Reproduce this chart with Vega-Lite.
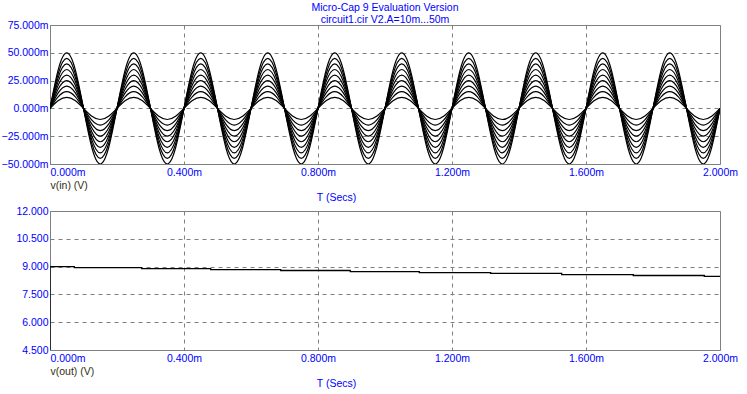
{
"$schema": "https://vega.github.io/schema/vega-lite/v6.json",
"padding": {"left": 0, "top": 2, "right": 5, "bottom": 5},
"background": "white",
"bounds": "flush",
"spacing": 47,
"config": {
  "font": "Liberation Sans",
  "view": {"stroke": "#808080", "strokeWidth": 1},
  "axis": {
    "labelColor": "#0000ff", "labelFont": "Liberation Sans", "labelFontSize": 10.5,
    "titleFont": "Liberation Sans", "titleFontSize": 10.5, "titleFontWeight": "normal",
    "ticks": false, "tickSize": 0, "domain": false,
    "grid": true, "gridColor": "#808080", "gridDash": [4, 4], "gridWidth": 1
  }
},
"vconcat": [
  {
    "title": {"text": "Micro-Cap 9 Evaluation Version", "subtitle": "circuit1.cir V2.A=10m...50m", "color": "#0000ff", "subtitleColor": "#0000ff", "fontSize": 10.5, "subtitleFontSize": 10.5, "fontWeight": "normal", "font": "Liberation Sans", "subtitleFont": "Liberation Sans", "anchor": "middle", "offset": -5, "subtitlePadding": 1, "frame": "group"},
    "width": 670, "height": 139,
    "data": {"values": [
{"t":0,"a":0,"b":0,"c":0,"d":0,"e":0,"f":0,"g":0,"h":0,"i":0},
{"t":0.025,"a":7.07,"b":10.61,"c":14.14,"d":17.68,"e":21.21,"f":24.75,"g":28.28,"h":31.82,"i":35.36},
{"t":0.05,"a":10,"b":15,"c":20,"d":25,"e":30,"f":35,"g":40,"h":45,"i":50},
{"t":0.075,"a":7.07,"b":10.61,"c":14.14,"d":17.68,"e":21.21,"f":24.75,"g":28.28,"h":31.82,"i":35.36},
{"t":0.1,"a":0,"b":0,"c":0,"d":0,"e":0,"f":0,"g":0,"h":0,"i":0},
{"t":0.125,"a":-7.07,"b":-10.61,"c":-14.14,"d":-17.68,"e":-21.21,"f":-24.75,"g":-28.28,"h":-31.82,"i":-35.36},
{"t":0.15,"a":-10,"b":-15,"c":-20,"d":-25,"e":-30,"f":-35,"g":-40,"h":-45,"i":-50},
{"t":0.175,"a":-7.07,"b":-10.61,"c":-14.14,"d":-17.68,"e":-21.21,"f":-24.75,"g":-28.28,"h":-31.82,"i":-35.36},
{"t":0.2,"a":0,"b":0,"c":0,"d":0,"e":0,"f":0,"g":0,"h":0,"i":0},
{"t":0.225,"a":7.07,"b":10.61,"c":14.14,"d":17.68,"e":21.21,"f":24.75,"g":28.28,"h":31.82,"i":35.36},
{"t":0.25,"a":10,"b":15,"c":20,"d":25,"e":30,"f":35,"g":40,"h":45,"i":50},
{"t":0.275,"a":7.07,"b":10.61,"c":14.14,"d":17.68,"e":21.21,"f":24.75,"g":28.28,"h":31.82,"i":35.36},
{"t":0.3,"a":0,"b":0,"c":0,"d":0,"e":0,"f":0,"g":0,"h":0,"i":0},
{"t":0.325,"a":-7.07,"b":-10.61,"c":-14.14,"d":-17.68,"e":-21.21,"f":-24.75,"g":-28.28,"h":-31.82,"i":-35.36},
{"t":0.35,"a":-10,"b":-15,"c":-20,"d":-25,"e":-30,"f":-35,"g":-40,"h":-45,"i":-50},
{"t":0.375,"a":-7.07,"b":-10.61,"c":-14.14,"d":-17.68,"e":-21.21,"f":-24.75,"g":-28.28,"h":-31.82,"i":-35.36},
{"t":0.4,"a":0,"b":0,"c":0,"d":0,"e":0,"f":0,"g":0,"h":0,"i":0},
{"t":0.425,"a":7.07,"b":10.61,"c":14.14,"d":17.68,"e":21.21,"f":24.75,"g":28.28,"h":31.82,"i":35.36},
{"t":0.45,"a":10,"b":15,"c":20,"d":25,"e":30,"f":35,"g":40,"h":45,"i":50},
{"t":0.475,"a":7.07,"b":10.61,"c":14.14,"d":17.68,"e":21.21,"f":24.75,"g":28.28,"h":31.82,"i":35.36},
{"t":0.5,"a":0,"b":0,"c":0,"d":0,"e":0,"f":0,"g":0,"h":0,"i":0},
{"t":0.525,"a":-7.07,"b":-10.61,"c":-14.14,"d":-17.68,"e":-21.21,"f":-24.75,"g":-28.28,"h":-31.82,"i":-35.36},
{"t":0.55,"a":-10,"b":-15,"c":-20,"d":-25,"e":-30,"f":-35,"g":-40,"h":-45,"i":-50},
{"t":0.575,"a":-7.07,"b":-10.61,"c":-14.14,"d":-17.68,"e":-21.21,"f":-24.75,"g":-28.28,"h":-31.82,"i":-35.36},
{"t":0.6,"a":0,"b":0,"c":0,"d":0,"e":0,"f":0,"g":0,"h":0,"i":0},
{"t":0.625,"a":7.07,"b":10.61,"c":14.14,"d":17.68,"e":21.21,"f":24.75,"g":28.28,"h":31.82,"i":35.36},
{"t":0.65,"a":10,"b":15,"c":20,"d":25,"e":30,"f":35,"g":40,"h":45,"i":50},
{"t":0.675,"a":7.07,"b":10.61,"c":14.14,"d":17.68,"e":21.21,"f":24.75,"g":28.28,"h":31.82,"i":35.36},
{"t":0.7,"a":0,"b":0,"c":0,"d":0,"e":0,"f":0,"g":0,"h":0,"i":0},
{"t":0.725,"a":-7.07,"b":-10.61,"c":-14.14,"d":-17.68,"e":-21.21,"f":-24.75,"g":-28.28,"h":-31.82,"i":-35.36},
{"t":0.75,"a":-10,"b":-15,"c":-20,"d":-25,"e":-30,"f":-35,"g":-40,"h":-45,"i":-50},
{"t":0.775,"a":-7.07,"b":-10.61,"c":-14.14,"d":-17.68,"e":-21.21,"f":-24.75,"g":-28.28,"h":-31.82,"i":-35.36},
{"t":0.8,"a":0,"b":0,"c":0,"d":0,"e":0,"f":0,"g":0,"h":0,"i":0},
{"t":0.825,"a":7.07,"b":10.61,"c":14.14,"d":17.68,"e":21.21,"f":24.75,"g":28.28,"h":31.82,"i":35.36},
{"t":0.85,"a":10,"b":15,"c":20,"d":25,"e":30,"f":35,"g":40,"h":45,"i":50},
{"t":0.875,"a":7.07,"b":10.61,"c":14.14,"d":17.68,"e":21.21,"f":24.75,"g":28.28,"h":31.82,"i":35.36},
{"t":0.9,"a":0,"b":0,"c":0,"d":0,"e":0,"f":0,"g":0,"h":0,"i":0},
{"t":0.925,"a":-7.07,"b":-10.61,"c":-14.14,"d":-17.68,"e":-21.21,"f":-24.75,"g":-28.28,"h":-31.82,"i":-35.36},
{"t":0.95,"a":-10,"b":-15,"c":-20,"d":-25,"e":-30,"f":-35,"g":-40,"h":-45,"i":-50},
{"t":0.975,"a":-7.07,"b":-10.61,"c":-14.14,"d":-17.68,"e":-21.21,"f":-24.75,"g":-28.28,"h":-31.82,"i":-35.36},
{"t":1.0,"a":0,"b":0,"c":0,"d":0,"e":0,"f":0,"g":0,"h":0,"i":0},
{"t":1.025,"a":7.07,"b":10.61,"c":14.14,"d":17.68,"e":21.21,"f":24.75,"g":28.28,"h":31.82,"i":35.36},
{"t":1.05,"a":10,"b":15,"c":20,"d":25,"e":30,"f":35,"g":40,"h":45,"i":50},
{"t":1.075,"a":7.07,"b":10.61,"c":14.14,"d":17.68,"e":21.21,"f":24.75,"g":28.28,"h":31.82,"i":35.36},
{"t":1.1,"a":0,"b":0,"c":0,"d":0,"e":0,"f":0,"g":0,"h":0,"i":0},
{"t":1.125,"a":-7.07,"b":-10.61,"c":-14.14,"d":-17.68,"e":-21.21,"f":-24.75,"g":-28.28,"h":-31.82,"i":-35.36},
{"t":1.15,"a":-10,"b":-15,"c":-20,"d":-25,"e":-30,"f":-35,"g":-40,"h":-45,"i":-50},
{"t":1.175,"a":-7.07,"b":-10.61,"c":-14.14,"d":-17.68,"e":-21.21,"f":-24.75,"g":-28.28,"h":-31.82,"i":-35.36},
{"t":1.2,"a":0,"b":0,"c":0,"d":0,"e":0,"f":0,"g":0,"h":0,"i":0},
{"t":1.225,"a":7.07,"b":10.61,"c":14.14,"d":17.68,"e":21.21,"f":24.75,"g":28.28,"h":31.82,"i":35.36},
{"t":1.25,"a":10,"b":15,"c":20,"d":25,"e":30,"f":35,"g":40,"h":45,"i":50},
{"t":1.275,"a":7.07,"b":10.61,"c":14.14,"d":17.68,"e":21.21,"f":24.75,"g":28.28,"h":31.82,"i":35.36},
{"t":1.3,"a":0,"b":0,"c":0,"d":0,"e":0,"f":0,"g":0,"h":0,"i":0},
{"t":1.325,"a":-7.07,"b":-10.61,"c":-14.14,"d":-17.68,"e":-21.21,"f":-24.75,"g":-28.28,"h":-31.82,"i":-35.36},
{"t":1.35,"a":-10,"b":-15,"c":-20,"d":-25,"e":-30,"f":-35,"g":-40,"h":-45,"i":-50},
{"t":1.375,"a":-7.07,"b":-10.61,"c":-14.14,"d":-17.68,"e":-21.21,"f":-24.75,"g":-28.28,"h":-31.82,"i":-35.36},
{"t":1.4,"a":0,"b":0,"c":0,"d":0,"e":0,"f":0,"g":0,"h":0,"i":0},
{"t":1.425,"a":7.07,"b":10.61,"c":14.14,"d":17.68,"e":21.21,"f":24.75,"g":28.28,"h":31.82,"i":35.36},
{"t":1.45,"a":10,"b":15,"c":20,"d":25,"e":30,"f":35,"g":40,"h":45,"i":50},
{"t":1.475,"a":7.07,"b":10.61,"c":14.14,"d":17.68,"e":21.21,"f":24.75,"g":28.28,"h":31.82,"i":35.36},
{"t":1.5,"a":0,"b":0,"c":0,"d":0,"e":0,"f":0,"g":0,"h":0,"i":0},
{"t":1.525,"a":-7.07,"b":-10.61,"c":-14.14,"d":-17.68,"e":-21.21,"f":-24.75,"g":-28.28,"h":-31.82,"i":-35.36},
{"t":1.55,"a":-10,"b":-15,"c":-20,"d":-25,"e":-30,"f":-35,"g":-40,"h":-45,"i":-50},
{"t":1.575,"a":-7.07,"b":-10.61,"c":-14.14,"d":-17.68,"e":-21.21,"f":-24.75,"g":-28.28,"h":-31.82,"i":-35.36},
{"t":1.6,"a":0,"b":0,"c":0,"d":0,"e":0,"f":0,"g":0,"h":0,"i":0},
{"t":1.625,"a":7.07,"b":10.61,"c":14.14,"d":17.68,"e":21.21,"f":24.75,"g":28.28,"h":31.82,"i":35.36},
{"t":1.65,"a":10,"b":15,"c":20,"d":25,"e":30,"f":35,"g":40,"h":45,"i":50},
{"t":1.675,"a":7.07,"b":10.61,"c":14.14,"d":17.68,"e":21.21,"f":24.75,"g":28.28,"h":31.82,"i":35.36},
{"t":1.7,"a":0,"b":0,"c":0,"d":0,"e":0,"f":0,"g":0,"h":0,"i":0},
{"t":1.725,"a":-7.07,"b":-10.61,"c":-14.14,"d":-17.68,"e":-21.21,"f":-24.75,"g":-28.28,"h":-31.82,"i":-35.36},
{"t":1.75,"a":-10,"b":-15,"c":-20,"d":-25,"e":-30,"f":-35,"g":-40,"h":-45,"i":-50},
{"t":1.775,"a":-7.07,"b":-10.61,"c":-14.14,"d":-17.68,"e":-21.21,"f":-24.75,"g":-28.28,"h":-31.82,"i":-35.36},
{"t":1.8,"a":0,"b":0,"c":0,"d":0,"e":0,"f":0,"g":0,"h":0,"i":0},
{"t":1.825,"a":7.07,"b":10.61,"c":14.14,"d":17.68,"e":21.21,"f":24.75,"g":28.28,"h":31.82,"i":35.36},
{"t":1.85,"a":10,"b":15,"c":20,"d":25,"e":30,"f":35,"g":40,"h":45,"i":50},
{"t":1.875,"a":7.07,"b":10.61,"c":14.14,"d":17.68,"e":21.21,"f":24.75,"g":28.28,"h":31.82,"i":35.36},
{"t":1.9,"a":0,"b":0,"c":0,"d":0,"e":0,"f":0,"g":0,"h":0,"i":0},
{"t":1.925,"a":-7.07,"b":-10.61,"c":-14.14,"d":-17.68,"e":-21.21,"f":-24.75,"g":-28.28,"h":-31.82,"i":-35.36},
{"t":1.95,"a":-10,"b":-15,"c":-20,"d":-25,"e":-30,"f":-35,"g":-40,"h":-45,"i":-50},
{"t":1.975,"a":-7.07,"b":-10.61,"c":-14.14,"d":-17.68,"e":-21.21,"f":-24.75,"g":-28.28,"h":-31.82,"i":-35.36},
{"t":2.0,"a":0,"b":0,"c":0,"d":0,"e":0,"f":0,"g":0,"h":0,"i":0}
    ]},
    "transform": [{"fold": ["a","b","c","d","e","f","g","h","i"], "as": ["amp","v"]}],
    "mark": {"type": "line", "color": "black", "strokeWidth": 1.2, "interpolate": "natural", "clip": true},
    "encoding": {
      "x": {"field": "t", "type": "quantitative", "scale": {"domain": [0, 2], "nice": false},
        "axis": {"title": "T (Secs)", "titleColor": "#0000ff", "values": [0, 0.4, 0.8, 1.2, 1.6, 2],
          "labelExpr": "format(datum.value, '.3f') + 'm'", "labelPadding": 3,
          "labelAlign": {"condition": {"test": "datum.value == 0", "value": "left"}, "value": "center"},
          "titleX": 286, "titleY": 33, "titleAlign": "center", "titleBaseline": "middle"}},
      "y": {"field": "v", "type": "quantitative", "scale": {"domain": [-50, 75], "nice": false},
        "axis": {"title": "v(in) (V)", "titleColor": "#303010", "titleAngle": 0, "titleX": 0, "titleY": 160, "titleAlign": "left", "titleBaseline": "middle",
          "values": [-50, -25, 0, 25, 50, 75], "labelExpr": "format(datum.value, '.3f') + 'm'", "labelPadding": 2, "labelBaseline": "middle"}},
      "detail": {"field": "amp"}
    }
  },
  {
    "width": 670, "height": 139,
    "data": {"values": [
      {"i": 0, "t": 0, "v": 0},
      {"i": 1, "t": 0, "v": 9.0},
      {"i": 2, "t": 0.0725, "v": 8.95},
      {"i": 3, "t": 0.2737, "v": 8.89},
      {"i": 4, "t": 0.4797, "v": 8.84},
      {"i": 5, "t": 0.6887, "v": 8.79},
      {"i": 6, "t": 0.8964, "v": 8.73},
      {"i": 7, "t": 1.1024, "v": 8.68},
      {"i": 8, "t": 1.3155, "v": 8.63},
      {"i": 9, "t": 1.5275, "v": 8.57},
      {"i": 10, "t": 1.7412, "v": 8.52},
      {"i": 11, "t": 1.9531, "v": 8.47},
      {"i": 12, "t": 2.0, "v": 8.47}
    ]},
    "mark": {"type": "line", "color": "black", "strokeWidth": 1.3, "interpolate": "step-after", "clip": true},
    "encoding": {
      "x": {"field": "t", "type": "quantitative", "scale": {"domain": [0, 2], "nice": false},
        "axis": {"title": "T (Secs)", "titleColor": "#0000ff", "values": [0, 0.4, 0.8, 1.2, 1.6, 2],
          "labelExpr": "format(datum.value, '.3f') + 'm'", "labelPadding": 3,
          "labelAlign": {"condition": {"test": "datum.value == 0", "value": "left"}, "value": "center"},
          "titleX": 286, "titleY": 33, "titleAlign": "center", "titleBaseline": "middle"}},
      "y": {"field": "v", "type": "quantitative", "scale": {"domain": [4.5, 12], "nice": false},
        "axis": {"title": "v(out) (V)", "titleColor": "#303010", "titleAngle": 0, "titleX": 0, "titleY": 160, "titleAlign": "left", "titleBaseline": "middle",
          "values": [4.5, 6, 7.5, 9, 10.5, 12], "labelExpr": "format(datum.value, '.3f')", "labelPadding": 2, "labelBaseline": "middle"}},
      "order": {"field": "i", "type": "quantitative"}
    }
  }
]
}
